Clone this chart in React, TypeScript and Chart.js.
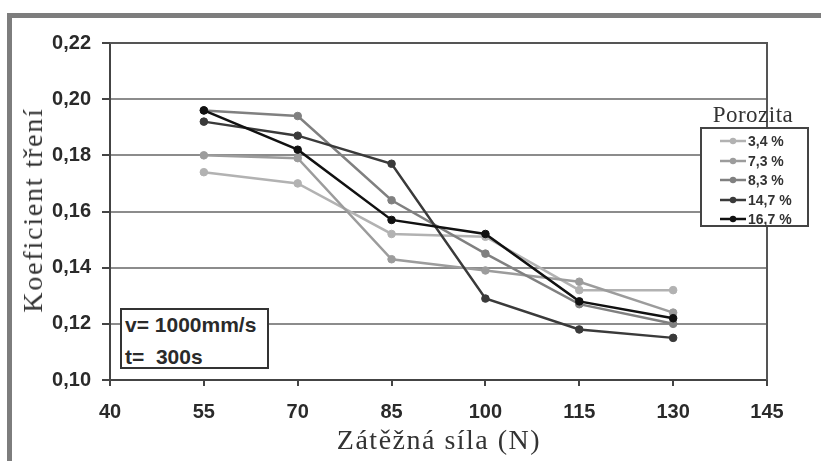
import React, { useEffect, useRef } from "react";
import { Chart, registerables } from "chart.js";

Chart.register(...registerables);

// ---- data ----
const loads = [55, 70, 85, 100, 115, 130];
const por34 = [0.174, 0.17, 0.152, 0.151, 0.132, 0.132];
const por73 = [0.18, 0.179, 0.143, 0.139, 0.135, 0.124];
const por83 = [0.196, 0.194, 0.164, 0.145, 0.127, 0.12];
const por147 = [0.192, 0.187, 0.177, 0.129, 0.118, 0.115];
const por167 = [0.196, 0.182, 0.157, 0.152, 0.128, 0.122];
const seriesLabels = ["3,4 %", "7,3 %", "8,3 %", "14,7 %", "16,7 %"];
const seriesValues = [por34, por73, por83, por147, por167];
const seriesColors = ["#b2b2b2", "#9c9c9c", "#808080", "#3a3a3a", "#111111"];
const xTicks = [40, 55, 70, 85, 100, 115, 130, 145];
const yTicks = [0.1, 0.12, 0.14, 0.16, 0.18, 0.2, 0.22];
const xTitle = "Zátěžná síla (N)";
const yTitle = "Koeficient tření";
const legendTitle = "Porozita";
const noteLines = ["v= 1000mm/s", "t=  300s"];

const tickFont = { family: "'Liberation Sans', Arial, sans-serif", size: 20, weight: "bold" as const };
const serif = "'Liberation Serif', 'Times New Roman', serif";

const frameLines = {
  id: "frameLines",
  beforeDatasetsDraw(chart: any) {
    const { ctx, chartArea: a } = chart;
    ctx.save();
    ctx.strokeStyle = "#555";
    ctx.lineWidth = 2;
    ctx.beginPath();
    ctx.moveTo(a.left, a.top);
    ctx.lineTo(a.right, a.top);
    ctx.lineTo(a.right, a.bottom);
    ctx.stroke();
    ctx.restore();
  },
};

export default function App() {
  const ref = useRef<HTMLCanvasElement | null>(null);

  useEffect(() => {
    if (!ref.current) return;
    const datasets = seriesValues.map((vals, i) => ({
      label: seriesLabels[i],
      data: loads.map((x, j) => ({ x, y: vals[j] })),
      borderColor: seriesColors[i],
      backgroundColor: seriesColors[i],
      pointBackgroundColor: seriesColors[i],
      pointBorderColor: seriesColors[i],
      borderWidth: 2.5,
      pointRadius: 3.8,
      pointBorderWidth: 1,
      order: 5 - i,
      tension: 0,
    }));
    const chart = new Chart(ref.current, {
      type: "line",
      data: { datasets },
      plugins: [frameLines],
      options: {
        animation: false,
        responsive: false,
        devicePixelRatio: 1,
        layout: { padding: { left: 0, top: 43, right: 54, bottom: 0 } },
        plugins: { legend: { display: false }, tooltip: { enabled: false } },
        scales: {
          x: {
            type: "linear",
            min: 40,
            max: 145,
            afterFit: (s: any) => {
              s.height = 81;
            },
            afterBuildTicks: (s: any) => {
              s.ticks = xTicks.map((v) => ({ value: v }));
            },
            ticks: {
              font: tickFont,
              color: "#2a2a2a",
              padding: 14,
              callback: (v: any) => String(v),
            },
            grid: {
              display: true,
              drawOnChartArea: false,
              drawTicks: true,
              tickLength: 6,
              color: "#444",
              lineWidth: 2,
            },
            border: { color: "#444", width: 2 },
          },
          y: {
            type: "linear",
            min: 0.1,
            max: 0.22,
            afterFit: (s: any) => {
              s.width = 110;
            },
            afterBuildTicks: (s: any) => {
              s.ticks = yTicks.map((v) => ({ value: v }));
            },
            ticks: {
              font: tickFont,
              color: "#2a2a2a",
              padding: 11,
              callback: (v: any) => Number(v).toFixed(2).replace(".", ","),
            },
            grid: {
              color: (c: any) => (c.tick && c.tick.value > 0.219 ? "#555" : "#8c8c8c"),
              lineWidth: 2,
              tickLength: 8,
              tickColor: "#444",
            },
            border: { color: "#444", width: 2 },
          },
        },
      },
    });
    return () => chart.destroy();
  }, []);

  return (
    <div
      style={{
        position: "fixed",
        left: 0,
        top: 0,
        width: 821,
        height: 461,
        background: "#fff",
        overflow: "hidden",
      }}
    >
      <div
        style={{
          position: "absolute",
          left: 7,
          top: 13,
          width: 821,
          height: 461,
          borderTop: "5px solid #7d7d7d",
          borderLeft: "5px solid #7d7d7d",
          boxSizing: "border-box",
        }}
      />
      <canvas ref={ref} width={821} height={461} style={{ position: "absolute", left: 0, top: 0, width: 821, height: 461 }} />
      {/* axis titles */}
      <div
        style={{
          position: "absolute",
          left: 33,
          top: 210,
          transform: "translate(-50%, -50%) rotate(-90deg)",
          whiteSpace: "nowrap",
          fontFamily: serif,
          fontSize: 28,
          letterSpacing: 1.8,
          color: "#333",
          lineHeight: 1,
        }}
      >
        {yTitle}
      </div>
      <div
        style={{
          position: "absolute",
          left: 439,
          top: 440,
          transform: "translate(-50%, -50%)",
          whiteSpace: "nowrap",
          fontFamily: serif,
          fontSize: 28,
          letterSpacing: 1.5,
          color: "#333",
          lineHeight: 1,
        }}
      >
        {xTitle}
      </div>
      {/* note box */}
      <div
        style={{
          position: "absolute",
          left: 120,
          top: 308,
          width: 149,
          height: 61,
          border: "2px solid #333",
          background: "#fff",
          boxSizing: "border-box",
        }}
      >
        {noteLines.map((t, i) => (
          <div
            key={i}
            style={{
              position: "absolute",
              left: 3,
              top: i === 0 ? 4 : 36,
              whiteSpace: "pre",
              fontFamily: "'Liberation Sans', Arial, sans-serif",
              fontWeight: "bold",
              fontSize: 21,
              lineHeight: "22px",
              color: "#2a2a2a",
            }}
          >
            {t}
          </div>
        ))}
      </div>
      {/* legend */}
      <div
        style={{
          position: "absolute",
          left: 753,
          top: 114,
          transform: "translate(-50%, -50%)",
          whiteSpace: "nowrap",
          fontFamily: serif,
          fontSize: 23,
          letterSpacing: 0.5,
          color: "#333",
          lineHeight: 1,
        }}
      >
        {legendTitle}
      </div>
      <div
        style={{
          position: "absolute",
          left: 700,
          top: 127,
          width: 109,
          height: 100,
          border: "2px solid #444",
          background: "#fff",
          boxSizing: "border-box",
        }}
      >
        {seriesLabels.map((lab, i) => (
          <div key={lab} style={{ position: "absolute", left: 0, top: 3 + i * 19.5, height: 18, width: 105 }}>
            <svg width={30} height={18} style={{ position: "absolute", left: 16, top: 0 }}>
              <line x1={2} y1={9} x2={28} y2={9} stroke={seriesColors[i]} strokeWidth={2.5} />
              <circle cx={15} cy={9} r={3.2} fill={seriesColors[i]} />
            </svg>
            <div
              style={{
                position: "absolute",
                left: 46,
                top: 0,
                lineHeight: "18px",
                fontFamily: "'Liberation Sans', Arial, sans-serif",
                fontWeight: "bold",
                fontSize: 14,
                color: "#333",
                whiteSpace: "nowrap",
              }}
            >
              {lab}
            </div>
          </div>
        ))}
      </div>
    </div>
  );
}
